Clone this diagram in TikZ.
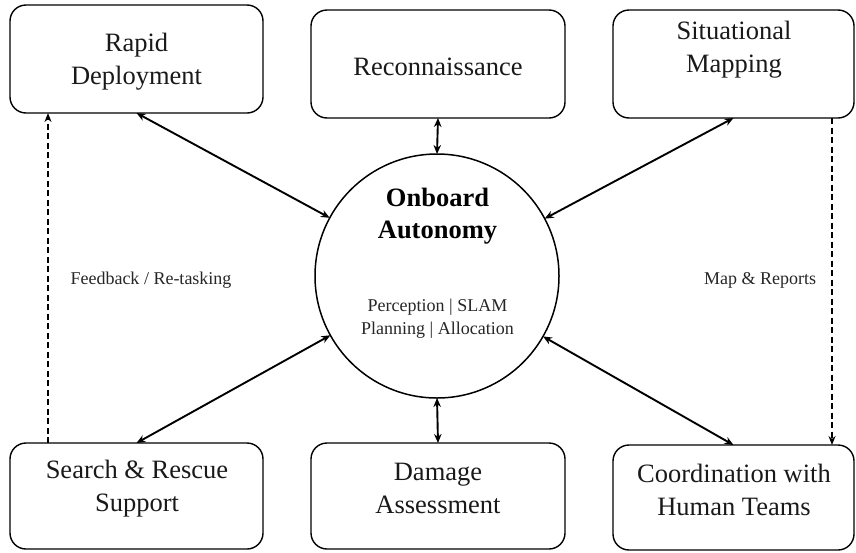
\documentclass[tikz,border=0pt]{standalone}
\usepackage{fontspec}
\setmainfont{Liberation Serif}
\usetikzlibrary{arrows.meta}
\begin{document}
\begin{tikzpicture}[x=1pt,y=-1pt,
  box/.style={draw=black,line width=1.4pt,rounded corners=16pt,inner sep=0pt,outer sep=0pt},
  boxtext/.style={align=center,inner sep=0pt,text=black!90,font=\fontsize{26.5}{33}\selectfont},
  smalltext/.style={align=center,inner sep=0pt,text=black!85,font=\fontsize{18}{23}\selectfont},
  link/.style={line width=1.9pt,{Stealth[length=9pt,width=7.5pt]}-{Stealth[length=9pt,width=7.5pt]}},
  flow/.style={line width=1.9pt,dash pattern=on 6pt off 3.5pt,-{Stealth[length=9pt,width=7pt]}}]
\useasboundingbox (0,0) rectangle (856,552);
% boxes
\node[box,minimum width=253pt,minimum height=108pt] (rd) at (136.5,59) {};
\node[box,minimum width=254pt,minimum height=108pt] (rc) at (438,64) {};
\node[box,minimum width=241pt,minimum height=108pt] (sm) at (733.5,64) {};
\node[box,minimum width=253pt,minimum height=106pt] (sr) at (136.5,496) {};
\node[box,minimum width=254pt,minimum height=106pt] (da) at (438,496) {};
\node[box,minimum width=241pt,minimum height=105pt] (co) at (733.5,497.5) {};
% circle
\node[draw=black,line width=1.5pt,circle,minimum size=244pt,inner sep=0pt,outer sep=0pt] (c) at (437,276) {};
% texts
\node[boxtext] (trd) at (136.5,61.5) {Rapid\\Deployment};
\node[boxtext] (trc) at (438,66.5) {Reconnaissance};
\node[boxtext] (tsm) at (734,50) {Situational\\Mapping};
\node[boxtext] (tsr) at (137,488.5) {Search \& Rescue\\Support};
\node[boxtext] (tda) at (438,488) {Damage\\Assessment};
\node[boxtext] (tco) at (734,490) {Coordination with\\Human Teams};
\node[align=center,inner sep=0pt,font=\fontsize{26.5}{32}\selectfont\bfseries] (tob) at (437.5,216) {Onboard\\Autonomy};
\node[smalltext] (tpp) at (437.5,318.5) {Perception | SLAM\\Planning | Allocation};
\node[smalltext] (tfb) at (151,280) {Feedback / Re-tasking};
\node[smalltext] (tmr) at (760,280) {Map \& Reports};
% connectors
\draw[link] (rd.south) -- (c);
\draw[link] (sm.south) -- (c);
\draw[link] (sr.north) -- (c);
\draw[link] (co.north) -- (c);
\draw[link] (rc.south) -- (c.north);
\draw[link] (da.north) -- (c.south);
\draw[flow] ([xshift=38pt]sr.north west) -- ([xshift=38pt]rd.south west);
\draw[flow] ([xshift=-22pt]sm.south east) -- ([xshift=-22pt]co.north east);
\end{tikzpicture}
\end{document}
